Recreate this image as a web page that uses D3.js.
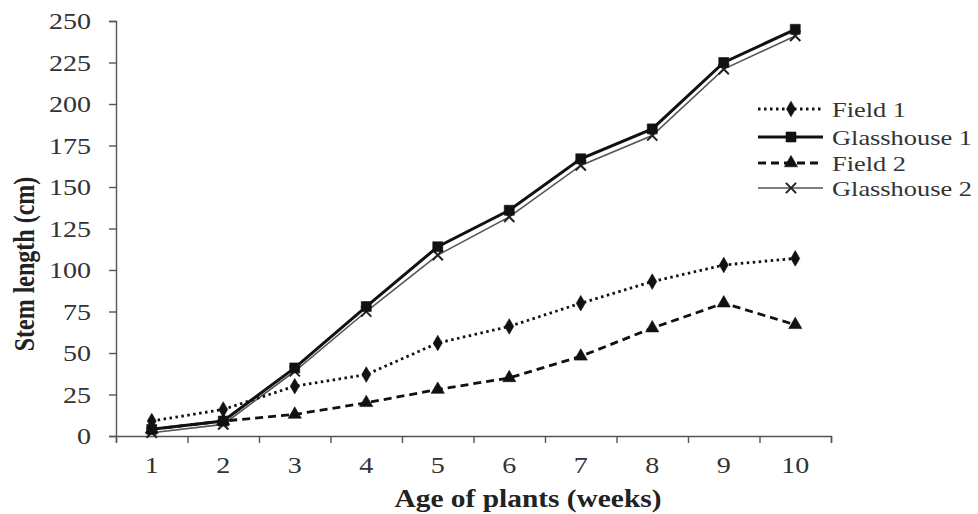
<!DOCTYPE html>
<html><head><meta charset="utf-8">
<script src="https://cdn.jsdelivr.net/npm/d3@7"></script>
<style>body{margin:0;background:#fff}svg{display:block}</style>
</head><body>
<script>
const weeks = [1,2,3,4,5,6,7,8,9,10];
const field1 = [9,16,30,37,56,66,80,93,103,107];
const glasshouse1 = [4,9,41,78,114,136,167,185,225,245];
const field2 = [4,9,13,20,28,35,48,65,80,67];
const glasshouse2 = [2,7,39,75,109,132,163,181,221,241];
const yTicks = [0,25,50,75,100,125,150,175,200,225,250];
const seriesNames = ["Field 1","Glasshouse 1","Field 2","Glasshouse 2"];

const W=978,H=514;
const svg=d3.select("body").append("svg").attr("width",W).attr("height",H);
const font="'Liberation Serif','Times New Roman',serif";
const SX=1.17;

const x=d3.scaleBand().domain(weeks).range([116,831]);
const xl=d3.scaleLinear().domain([0,10]).range([116,831]);
const y=d3.scaleLinear().domain([0,250]).range([436,21]);
const cx=d=>x(d)+x.bandwidth()/2;

// y axis
const ya=svg.append("g").attr("transform","translate(116,0)")
 .call(d3.axisLeft(y).tickValues(yTicks).tickSize(7).tickFormat(""));
ya.selectAll("line,path").attr("stroke","#555").attr("stroke-width",1.4);
svg.append("g").selectAll("text").data(yTicks).join("text")
 .attr("transform",d=>`translate(91,${y(d)}) scale(${SX},1)`)
 .attr("dy","0.35em").attr("text-anchor","end")
 .attr("font-family",font).attr("font-size",24).attr("fill","#333").text(d=>d);

// x axis ticks between categories
const xa=svg.append("g").attr("transform","translate(0,436)")
 .call(d3.axisBottom(xl).tickValues(d3.range(0,11)).tickSize(7).tickFormat(""));
xa.selectAll("line,path").attr("stroke","#555").attr("stroke-width",1.4);
svg.append("g").selectAll("text").data(weeks).join("text")
 .attr("transform",d=>`translate(${cx(d)},473) scale(${SX},1)`)
 .attr("text-anchor","middle")
 .attr("font-family",font).attr("font-size",24).attr("fill","#333").text(d=>d);

// titles
svg.append("text").attr("transform",`translate(528,507) scale(1.2,1)`).attr("text-anchor","middle")
 .attr("font-family",font).attr("font-weight","bold").attr("font-size",24.5).attr("fill","#222")
 .text("Age of plants (weeks)");
svg.append("text").attr("transform","translate(34,264) scale(1.2,1) rotate(-90)").attr("text-anchor","middle")
 .attr("font-family",font).attr("font-weight","bold").attr("font-size",24).attr("fill","#222")
 .text("Stem length (cm)");

const sym={
 diamond:d3.symbol().type(d3.symbolDiamond).size(70),
 square:d3.symbol().type(d3.symbolSquare).size(100),
 triangle:d3.symbol().type(d3.symbolTriangle).size(75),
 cross:d3.symbol().type(d3.symbolX).size(70)
};
const series=[
 {name:seriesNames[0],vals:field1,dash:"2.5,3.5",w:2.8,col:"#111",m:"diamond"},
 {name:seriesNames[1],vals:glasshouse1,dash:null,w:3,col:"#111",m:"square"},
 {name:seriesNames[2],vals:field2,dash:"8,5",w:2.8,col:"#111",m:"triangle"},
 {name:seriesNames[3],vals:glasshouse2,dash:null,w:1.6,col:"#555",m:"cross"}
];
const line=d3.line().x((d,i)=>cx(weeks[i])).y(d=>y(d));
series.slice().reverse().forEach(s=>{
 svg.append("path").attr("d",line(s.vals)).attr("fill","none").attr("stroke",s.col)
  .attr("stroke-width",s.w).attr("stroke-dasharray",s.dash);
 svg.append("g").selectAll("path").data(s.vals).join("path")
  .attr("transform",(d,i)=>`translate(${cx(weeks[i])},${y(d)})`)
  .attr("d",sym[s.m]).attr("fill",s.m==="cross"?"none":"#111")
  .attr("stroke",s.m==="cross"?"#222":"#111").attr("stroke-width",s.m==="cross"?2:0.6);
});

// legend
const rows=[109,137,163,188];
const lg=svg.append("g");
series.forEach((s,i)=>{
 const yy=rows[i];
 lg.append("line").attr("x1",758).attr("x2",823).attr("y1",yy).attr("y2",yy)
  .attr("stroke",s.col).attr("stroke-width",s.w).attr("stroke-dasharray",s.dash);
 lg.append("path").attr("transform",`translate(791,${yy})`).attr("d",sym[s.m])
  .attr("fill",s.m==="cross"?"none":"#111").attr("stroke",s.m==="cross"?"#222":"#111")
  .attr("stroke-width",s.m==="cross"?2:0.6);
 lg.append("text").attr("transform",`translate(832,${yy+7.5}) scale(1.2,1)`)
  .attr("font-family",font).attr("font-size",22).attr("fill","#333").text(s.name);
});
</script>
</body></html>
